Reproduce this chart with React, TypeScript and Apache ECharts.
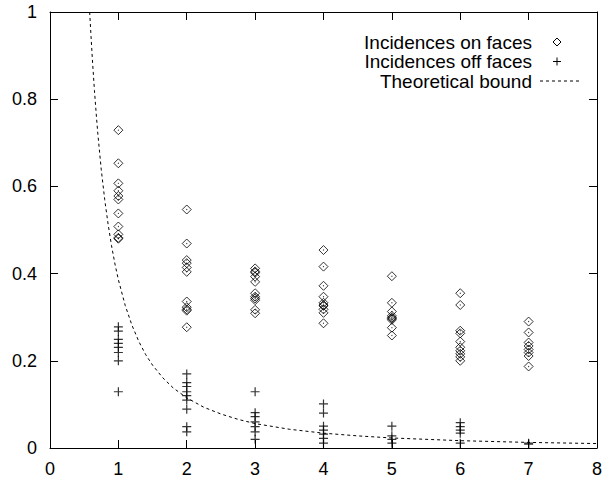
import React, { useEffect, useRef } from "react";
import * as echarts from "echarts";

// x positions of the measured groups
const groupX = [1, 2, 3, 4, 5, 6, 7];

// Incidences on faces (diamonds), one list per x
const onFaces1 = [0.729, 0.653, 0.607, 0.59, 0.578, 0.57, 0.538, 0.508, 0.49, 0.482, 0.48];
const onFaces2 = [0.547, 0.469, 0.431, 0.424, 0.414, 0.404, 0.336, 0.323, 0.318, 0.315, 0.277];
const onFaces3 = [0.412, 0.405, 0.402, 0.393, 0.381, 0.355, 0.347, 0.343, 0.339, 0.317, 0.309];
const onFaces4 = [0.454, 0.416, 0.372, 0.347, 0.333, 0.328, 0.326, 0.318, 0.31, 0.286];
const onFaces5 = [0.394, 0.333, 0.313, 0.303, 0.299, 0.297, 0.294, 0.276, 0.258];
const onFaces6 = [0.355, 0.328, 0.269, 0.263, 0.244, 0.231, 0.223, 0.216, 0.209, 0.2];
const onFaces7 = [0.29, 0.265, 0.242, 0.234, 0.226, 0.219, 0.211, 0.187];
const onFaces = [onFaces1, onFaces2, onFaces3, onFaces4, onFaces5, onFaces6, onFaces7];

// Incidences off faces (plus signs), one list per x
const offFaces1 = [0.278, 0.268, 0.249, 0.24, 0.231, 0.219, 0.2, 0.129];
const offFaces2 = [0.17, 0.15, 0.141, 0.129, 0.12, 0.11, 0.089, 0.049, 0.037];
const offFaces3 = [0.129, 0.081, 0.072, 0.06, 0.049, 0.037, 0.02];
const offFaces4 = [0.101, 0.08, 0.05, 0.041, 0.032, 0.022, 0.011];
const offFaces5 = [0.05, 0.028, 0.02, 0.011];
const offFaces6 = [0.058, 0.049, 0.041, 0.034, 0.011];
const offFaces7 = [0.011, 0.009];
const offFaces = [offFaces1, offFaces2, offFaces3, offFaces4, offFaces5, offFaces6, offFaces7];

// Theoretical bound (dashed curve)
const boundX = [0.58, 0.6, 0.62, 0.65, 0.68, 0.7, 0.75, 0.8, 0.85, 0.9, 0.95, 1.0, 1.1, 1.2, 1.3, 1.4, 1.5, 1.65, 1.8, 2.0, 2.25, 2.5, 2.75, 3, 3.5, 4, 4.5, 5, 6, 7, 8];
const boundY = [1.0, 0.944, 0.891, 0.82, 0.758, 0.72, 0.638, 0.57, 0.513, 0.464, 0.422, 0.386, 0.327, 0.281, 0.244, 0.214, 0.19, 0.161, 0.138, 0.115, 0.0934, 0.078, 0.0657, 0.056, 0.043, 0.034, 0.0278, 0.023, 0.0168, 0.0128, 0.0102];

// Axis ticks
const xMin = 0, xMax = 8, xStep = 1;
const yMin = 0, yMax = 1, yStep = 0.2;

const seriesNames = ["Incidences on faces", "Incidences off faces", "Theoretical bound"];

const FONT = '"Liberation Sans", Arial, Helvetica, sans-serif';

export default function App() {
  const ref = useRef<HTMLDivElement>(null);

  useEffect(() => {
    document.body.style.margin = "0";
    if (!ref.current) return;
    const chart = echarts.init(ref.current, undefined, { renderer: "svg" });

    const toPoints = (groups: number[][]) =>
      groups.flatMap((vals, i) => vals.map((v) => [groupX[i], v]));

    const axisLineStyle = { color: "#000", width: 1 };
    const baseX = {
      type: "value" as const,
      min: xMin,
      max: xMax,
      interval: xStep,
      splitLine: { show: false },
      axisLine: { show: true, onZero: false, lineStyle: axisLineStyle },
      axisTick: { show: true, inside: true, length: 8, lineStyle: axisLineStyle },
    };
    const baseY = {
      type: "value" as const,
      min: yMin,
      max: yMax,
      interval: yStep,
      splitLine: { show: false },
      axisLine: { show: true, onZero: false, lineStyle: axisLineStyle },
      axisTick: { show: true, inside: true, length: 8, lineStyle: axisLineStyle },
    };

    const legendRightText = 532;
    const legendSym = 557;
    const rowY = [42, 61.5, 81];
    const textStyle = (t: string, y: number) => ({
      type: "text",
      style: {
        text: t,
        x: legendRightText,
        y,
        align: "right",
        verticalAlign: "middle",
        font: `19px ${FONT}`,
        fill: "#000",
      },
    });

    chart.setOption({
      animation: false,
      backgroundColor: "#fff",
      grid: { left: 50, right: 4, top: 12, bottom: 31, containLabel: false },
      xAxis: [
        {
          ...baseX,
          position: "bottom",
          axisLabel: { show: true, color: "#000", fontSize: 18, fontFamily: FONT, margin: 12 },
        },
        { ...baseX, position: "top", axisLabel: { show: false } },
      ],
      yAxis: [
        {
          ...baseY,
          position: "left",
          axisLabel: {
            show: true,
            color: "#000",
            fontSize: 18,
            fontFamily: FONT,
            margin: 13,
            formatter: (v: number) => String(Number(v.toFixed(1))),
          },
        },
        { ...baseY, position: "right", axisLabel: { show: false } },
      ],
      series: [
        {
          name: seriesNames[0],
          type: "scatter",
          xAxisIndex: 0,
          yAxisIndex: 0,
          symbol: "diamond",
          symbolSize: 9,
          itemStyle: { color: "rgba(0,0,0,0)", borderColor: "#000", borderWidth: 1 },
          data: toPoints(onFaces),
        },
        {
          name: seriesNames[0] + " dot",
          type: "scatter",
          xAxisIndex: 0,
          yAxisIndex: 0,
          symbol: "circle",
          symbolSize: 1.2,
          itemStyle: { color: "#000" },
          silent: true,
          data: toPoints(onFaces),
        },
        {
          name: seriesNames[1],
          type: "scatter",
          xAxisIndex: 0,
          yAxisIndex: 0,
          symbol: "path://M0,5L10,5M5,0L5,10",
          symbolSize: 9,
          itemStyle: { color: "none", borderColor: "#000", borderWidth: 1.2 },
          data: toPoints(offFaces),
        },
        {
          name: seriesNames[2],
          type: "line",
          xAxisIndex: 0,
          yAxisIndex: 0,
          showSymbol: false,
          smooth: false,
          clip: true,
          lineStyle: { color: "#000", width: 1, type: [3, 3] },
          data: boundX.map((x, i) => [x, boundY[i]]),
        },
      ],
      graphic: [
        textStyle(seriesNames[0], rowY[0]),
        textStyle(seriesNames[1], rowY[1]),
        textStyle(seriesNames[2], rowY[2]),
        {
          type: "polygon",
          shape: {
            points: [
              [legendSym, rowY[0] - 4],
              [legendSym + 4, rowY[0]],
              [legendSym, rowY[0] + 4],
              [legendSym - 4, rowY[0]],
            ],
          },
          style: { fill: "none", stroke: "#000", lineWidth: 1 },
        },
        {
          type: "line",
          shape: { x1: legendSym - 4, y1: rowY[1], x2: legendSym + 4, y2: rowY[1] },
          style: { stroke: "#000", lineWidth: 1 },
        },
        {
          type: "line",
          shape: { x1: legendSym, y1: rowY[1] - 4, x2: legendSym, y2: rowY[1] + 4 },
          style: { stroke: "#000", lineWidth: 1 },
        },
        {
          type: "line",
          shape: { x1: 540, y1: rowY[2], x2: 582, y2: rowY[2] },
          style: { stroke: "#000", lineWidth: 1, lineDash: [3, 3] },
        },
      ],
    });

    return () => chart.dispose();
  }, []);

  return (
    <div
      ref={ref}
      style={{ width: 605, height: 479, position: "absolute", left: 0, top: 0 }}
    />
  );
}
